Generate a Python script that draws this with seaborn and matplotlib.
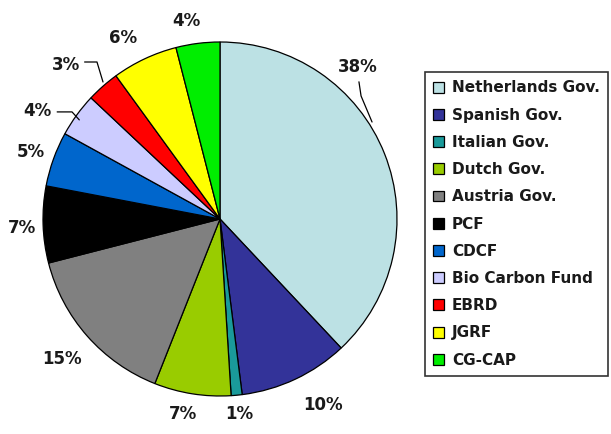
import matplotlib
matplotlib.use("Agg")
import matplotlib.pyplot as plt
from matplotlib.patches import Patch
import seaborn as sns

# ---- data ----
funds = ["Netherlands Gov.", "Spanish Gov.", "Italian Gov.", "Dutch Gov.", "Austria Gov.",
         "PCF", "CDCF", "Bio Carbon Fund", "EBRD", "JGRF", "CG-CAP"]
shares = [38, 10, 1, 7, 15, 7, 5, 4, 3, 6, 4]
pct_labels = ["38%", "10%", "1%", "7%", "15%", "7%", "5%", "4%", "3%", "6%", "4%"]
colors = ["#BCE1E4", "#333399", "#1A9A9A", "#99CC00", "#808080", "#000000",
          "#0066CC", "#CCCCFF", "#FF0000", "#FFFF00", "#00EE00"]

# ---- layout (label positions in pie-radius units) ----
label_pos = [(0.78, 0.86), (0.58, -1.05), (0.11, -1.10), (-0.21, -1.10), (-0.89, -0.79),
             (-1.12, -0.05), (-1.07, 0.38), (-1.03, 0.61), (-0.87, 0.87), (-0.55, 1.02),
             (-0.19, 1.12)]
leaders = {
    0: [(0.785, 0.775), (0.797, 0.695), (0.859, 0.548)],
    7: [(-0.92, 0.605), (-0.836, 0.605), (-0.795, 0.56)],
    8: [(-0.765, 0.887), (-0.695, 0.887), (-0.661, 0.774)],
}

sns.set_theme(style="white")
plt.rcParams['font.family'] = ['DejaVu Sans']

W, H = 611, 434
fig = plt.figure(figsize=(W / 100, H / 100), dpi=100)
fig.patch.set_facecolor("white")
cx, cy, R = 220, 219, 177
ax = fig.add_axes([(cx - R) / W, (H - cy - R) / H, 2 * R / W, 2 * R / H])

wedges, _ = ax.pie(shares, colors=colors, startangle=90, counterclock=False,
                   wedgeprops=dict(edgecolor="black", linewidth=0.9), radius=1.0)
ax.set_xlim(-1, 1)
ax.set_ylim(-1, 1)
ax.set_aspect("equal")
ax.axis("off")

for i, (lab, (x, y)) in enumerate(zip(pct_labels, label_pos)):
    ax.text(x, y, lab, ha="center", va="center", fontsize=12, fontweight="bold",
            color="#1a1a1a")
for i, pts in leaders.items():
    xs, ys = zip(*pts)
    ax.plot(xs, ys, color="black", linewidth=0.9, clip_on=False)

handles = [Patch(facecolor=c, edgecolor="black", linewidth=0.9, label=f)
           for f, c in zip(funds, colors)]
leg = fig.legend(handles=handles, loc="upper left", bbox_to_anchor=(425 / W, 1 - 72 / H),
                 frameon=True, fancybox=False, borderaxespad=0, borderpad=0.55,
                 handlelength=0.72, handleheight=0.72, handletextpad=0.5,
                 labelspacing=0.8,
                 prop=dict(size=11, weight="bold"))
leg.get_frame().set_edgecolor("black")
leg.get_frame().set_linewidth(1.2)
for t in leg.get_texts():
    t.set_color("#1a1a1a")

fig.savefig("out.png", dpi=100)
